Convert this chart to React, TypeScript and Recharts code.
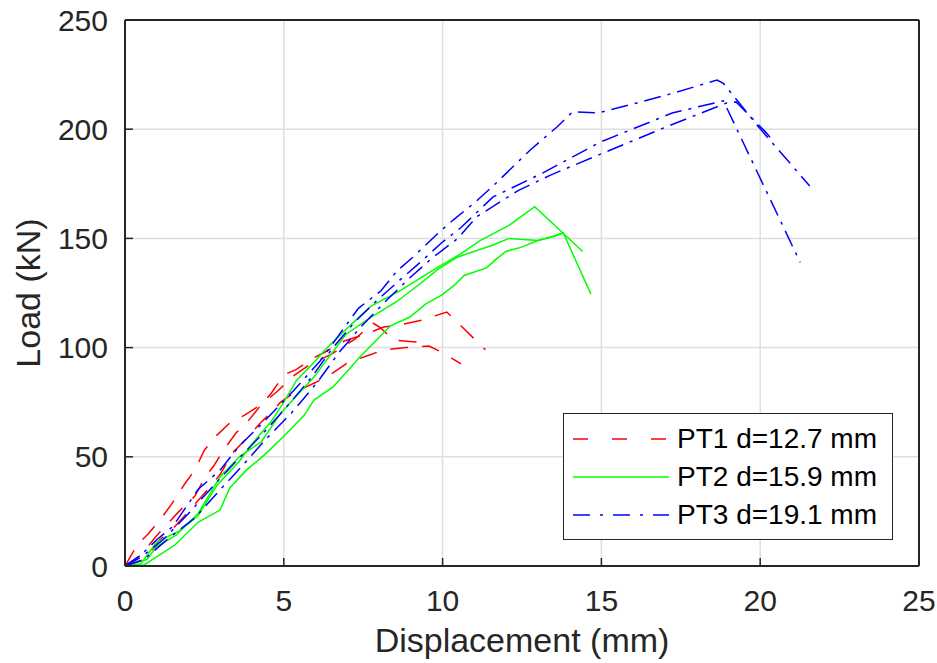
import React from 'react';
import { LineChart, Line, XAxis, YAxis, CartesianGrid, Legend, Label } from 'recharts';

// displacement (mm), load (kN) pairs
const pt1a = [[0, 0], [0.4, 10], [0.75, 15], [1.2, 23], [1.5, 29], [1.9, 38], [2.2, 44], [2.5, 53], [2.8, 58.6], [3.3, 65.5], [3.75, 69], [4.3, 74], [4.6, 79], [5.0, 87.5], [5.4, 90], [5.9, 95], [6.3, 98], [6.9, 103], [7.5, 105.8], [8.15, 109.4], [8.65, 110.4], [9.35, 112.6], [10.13, 116.3], [11.35, 99]];
const pt1b = [[0, 0], [0.5, 5], [1.0, 14], [1.7, 25], [2.2, 32], [2.5, 40], [2.8, 46], [3.1, 53], [3.5, 61], [3.8, 65], [4.3, 74], [4.8, 80], [5.3, 87], [5.8, 92], [6.5, 97], [7.25, 104], [7.8, 111.3], [8.05, 109], [8.45, 103.5], [9.15, 102.6], [9.45, 102]];
const pt1c = [[0, 0], [0.6, 3], [1.1, 12], [1.5, 17], [2.0, 25], [2.6, 35], [3.0, 42], [3.4, 52], [3.8, 58], [4.3, 66], [4.9, 75], [5.4, 80], [6.0, 84], [6.5, 88], [7.05, 93.4], [7.7, 96.6], [8.15, 99], [8.85, 100], [9.57, 100.7], [10.03, 97.5], [10.58, 92.5]];

const pt2a = [[0, 0], [0.5, 1], [1.0, 11], [1.7, 16], [2.3, 23], [2.9, 37], [3.6, 48], [4.0, 56], [4.6, 66], [5.0, 75], [5.4, 85], [6.0, 94], [6.3, 99], [7.15, 111], [7.75, 119], [8.65, 126], [9.87, 137], [10.58, 143], [11.18, 149], [12.09, 156], [12.9, 164.5], [14.41, 144]];
const pt2b = [[0, 0], [0.7, 3], [1.0, 9], [1.6, 14], [2.3, 24], [3.0, 41], [3.6, 50], [4.3, 57], [4.9, 70], [5.95, 86.5], [6.95, 106], [7.75, 114], [8.55, 121], [9.27, 129], [9.87, 136], [10.48, 141.5], [11.59, 147], [12.09, 150], [13.0, 149], [13.5, 151], [13.8, 152.5], [14.67, 124.5]];
const pt2c = [[0, 0], [0.6, 0.5], [1.57, 9.6], [2.3, 20], [2.99, 25.6], [3.3, 35.7], [3.83, 44], [4.4, 51], [5.04, 60], [5.64, 69], [5.95, 76], [6.55, 82], [7.05, 90], [7.35, 95], [8.36, 110], [8.97, 114], [9.47, 120], [9.97, 124], [10.38, 128.7], [10.68, 133], [11.38, 136.5], [11.69, 140.5], [11.99, 144], [12.49, 146], [13.0, 149], [13.5, 151], [13.8, 152.5]];

const pt3a = [[0, 0], [0.5, 5], [1.0, 12], [1.5, 18], [2.3, 35], [3.0, 44], [3.6, 55], [4.3, 65], [5.29, 80], [6.15, 94], [6.65, 104], [7.35, 118], [8.06, 126], [8.56, 135], [9.07, 141.5], [9.87, 152.5], [10.33, 158.4], [10.98, 166], [11.59, 174], [12.76, 190.5], [13.6, 201], [14.1, 208], [14.91, 207.5], [16.12, 212], [17.38, 217], [18.64, 222.5], [18.84, 221], [19.95, 201], [21.56, 174]];
const pt3b = [[0, 0], [0.5, 4], [1.2, 12], [2.0, 24], [2.8, 37], [3.5, 48], [4.3, 60], [5.04, 72], [5.85, 86], [6.55, 100], [7.25, 112], [7.96, 122], [8.66, 131], [9.37, 140], [9.97, 148], [10.58, 155], [11.59, 169], [13.16, 180], [14.95, 194], [17.23, 207.4], [18.84, 213], [21.26, 139]];
const pt3c = [[0, 0], [0.6, 3], [1.4, 13], [2.2, 22], [3.0, 35], [3.7, 46], [4.43, 58], [5.24, 70], [6.05, 84], [6.75, 98], [7.46, 110], [8.26, 122], [8.97, 132], [9.67, 141], [10.48, 150], [11.08, 160], [12.39, 172], [13.4, 179], [14.71, 187], [17.03, 201], [18.94, 212], [19.24, 212.5], [20.15, 199], [20.45, 194]];

const xTicks = [0, 5, 10, 15, 20, 25];
const yTicks = [0, 50, 100, 150, 200, 250];

const seriesNames = ['PT1 d=12.7 mm', 'PT2 d=15.9 mm', 'PT3 d=19.1 mm'];
const seriesColors = ['#ff0000', '#00ff00', '#0000ff'];
const plotDash = ['18 14', undefined, '17 7 3 7'];
const legendDash = ['15 24', undefined, '17 10 3 10'];

const groups = [
  [pt1a, pt1b, pt1c],
  [pt2a, pt2b, pt2c],
  [pt3a, pt3b, pt3c],
];

const toPoints = (arr: number[][]) => arr.map(([x, y]) => ({ x, y }));

const font = '"Liberation Sans", Arial, Helvetica, sans-serif';
const ink = '#262626';

function LegendBox() {
  return (
    <div style={{ width: 330, height: 127, boxSizing: 'border-box', border: `1.5px solid ${ink}`, background: '#fff', paddingTop: 6 }}>
      {seriesNames.map((name, i) => (
        <div key={name} style={{ display: 'flex', alignItems: 'center', height: 38 }}>
          <svg width={104} height={20} style={{ marginLeft: 9 }}>
            <line x1={0} x2={96} y1={10} y2={10} stroke={seriesColors[i]} strokeWidth={1.5} strokeDasharray={legendDash[i]} />
          </svg>
          <span style={{ fontFamily: font, fontSize: 28, color: '#000', whiteSpace: 'nowrap' }}>{name}</span>
        </div>
      ))}
    </div>
  );
}

export default function App() {
  const tickStyle = { fontSize: 30, fill: ink, fontFamily: font };
  return (
    <div style={{ position: 'absolute', left: 0, top: 0, background: '#fff' }}>
      <LineChart width={937} height={663} margin={{ top: 0, right: 0, left: 0, bottom: 0 }}>
        <CartesianGrid stroke="#dedede" strokeWidth={1.5} />
        <XAxis dataKey="x" type="number" domain={[0, 25]} ticks={xTicks} allowDataOverflow height={97}
          tickSize={-8} tickMargin={32} tick={tickStyle}
          axisLine={{ stroke: ink, strokeWidth: 2 }} tickLine={{ stroke: ink, strokeWidth: 1.5 }}>
          <Label value="Displacement (mm)" position="insideBottom" offset={11}
            style={{ fontSize: 34, fill: ink, fontFamily: font }} />
        </XAxis>
        <XAxis xAxisId="top" orientation="top" type="number" domain={[0, 25]} ticks={xTicks} height={20}
          tickSize={-8} tick={false}
          axisLine={{ stroke: ink, strokeWidth: 2 }} tickLine={{ stroke: ink, strokeWidth: 1.5 }} />
        <YAxis type="number" domain={[0, 250]} ticks={yTicks} width={125}
          tickSize={-8} tickMargin={25} tick={tickStyle}
          axisLine={{ stroke: ink, strokeWidth: 2 }} tickLine={{ stroke: ink, strokeWidth: 1.5 }}>
          <Label value="Load (kN)" angle={-90} position="insideLeft" offset={28}
            style={{ fontSize: 34, fill: ink, fontFamily: font, textAnchor: 'middle' }} />
        </YAxis>
        <YAxis yAxisId="r" orientation="right" type="number" domain={[0, 250]} ticks={yTicks} width={18}
          tickSize={-8} tick={false}
          axisLine={{ stroke: ink, strokeWidth: 2 }} tickLine={{ stroke: ink, strokeWidth: 1.5 }} />
        {groups.map((g, gi) =>
          g.map((arr, k) => (
            <Line key={`${gi}-${k}`} data={toPoints(arr)} dataKey="y" type="linear"
              stroke={seriesColors[gi]} strokeWidth={1.5} strokeDasharray={plotDash[gi]}
              dot={false} activeDot={false} isAnimationActive={false} legendType="none" />
          ))
        )}
        <Legend layout="vertical" align="center" verticalAlign="middle"
          wrapperStyle={{ position: 'absolute', left: 563, top: 413, width: 330, height: 127 }}
          content={() => <LegendBox />} />
      </LineChart>
    </div>
  );
}
